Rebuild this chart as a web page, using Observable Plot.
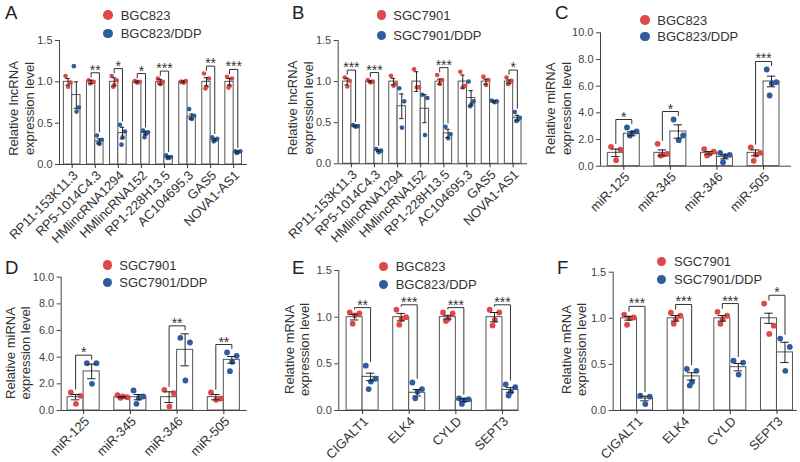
<!DOCTYPE html>
<html><head><meta charset="utf-8">
<script src="https://cdn.jsdelivr.net/npm/d3@7"></script>
<script src="https://cdn.jsdelivr.net/npm/@observablehq/plot@0.6"></script>
<style>
html,body{margin:0;padding:0;background:#fff;}
#wrap{position:relative;width:800px;height:462px;overflow:hidden;font-family:"Liberation Sans",Arial,sans-serif;color:#333;background:#fff;}
#wrap svg{position:absolute;left:0;top:0;}
.lab{position:absolute;white-space:nowrap;line-height:1;}
.key{position:absolute;border-radius:50%;}
</style></head><body><div id="wrap"></div>
<script>
// ---------- DATA ----------
const lncNames = ["RP11-153K11.3","RP5-1014C4.3","HMlincRNA1294","HMlincRNA152","RP1-228H13.5","AC104695.3","GAS5","NOVA1-AS1"];
const miNames = ["miR-125","miR-345","miR-346","miR-505"];
const mNames = ["CIGALT1","ELK4","CYLD","SEPT3"];

// A: lncRNA, BGC823 vs BGC823/DDP
const aCtrlMean = [1,1,1,1,1,1,1,1];
const aCtrlSem  = [0.04,0.02,0.05,0.01,0.03,0.01,0.05,0.04];
const aCtrlPts  = [[1.07,0.99,0.94],[1.02,1.0,0.99,0.98],[1.07,1.02,0.96,0.94],[1.01,1.0,0.99,1.0],[1.04,1.0,0.97,0.99],[1.0,1.01,0.99,1.0],[1.1,1.04,0.94,0.92],[1.06,1.04,0.95,0.93]];
const aDdpMean  = [0.84,0.28,0.38,0.38,0.09,0.58,0.30,0.15];
const aDdpSem   = [0.16,0.03,0.07,0.02,0.01,0.03,0.01,0.01];
const aDdpPts   = [[1.19,0.69,0.64],[0.35,0.30,0.25,0.26],[0.48,0.40,0.33,0.24],[0.41,0.39,0.37,0.33],[0.11,0.09,0.08,0.08],[0.67,0.59,0.55,0.56],[0.33,0.31,0.29,0.28],[0.16,0.16,0.15,0.14]];
const aSig      = ["","**","*","*","***","","**","***"];

// B: lncRNA, SGC7901 vs SGC7901/DDP
const bCtrlMean = [1,1,1,1,1,1,1,1];
const bCtrlSem  = [0.04,0.01,0.04,0.12,0.03,0.08,0.03,0.02];
const bCtrlPts  = [[1.05,1.01,0.94],[1.02,1.0,0.99],[1.07,0.97,0.95],[1.15,0.93,0.93],[1.08,1.02,0.97],[1.12,0.95,0.93],[1.06,1.02,0.96],[1.05,1.01,0.98,0.97]];
const bDdpMean  = [0.46,0.16,0.70,0.67,0.37,0.80,0.76,0.56];
const bDdpSem   = [0.01,0.01,0.15,0.17,0.05,0.09,0.01,0.03];
const bDdpPts   = [[0.47,0.46,0.45],[0.18,0.16,0.14],[0.92,0.76,0.44],[0.84,0.80,0.35],[0.45,0.36,0.31],[1.0,0.76,0.72,0.70],[0.77,0.76,0.75],[0.63,0.56,0.53,0.52]];
const bSig      = ["***","***","","","***","","","*"];

// C: miRNA, BGC823 vs BGC823/DDP
const cCtrlMean = [1,1,1,1];
const cCtrlSem  = [0.28,0.22,0.1,0.22];
const cCtrlPts  = [[1.45,1.25,0.45],[1.68,0.92,0.85,0.8],[1.28,1.1,0.92,0.8],[1.4,1.0,0.85,0.4]];
const cDdpMean  = [2.43,2.6,0.7,6.35];
const cDdpSem   = [0.15,0.5,0.15,0.4];
const cDdpPts   = [[2.9,2.6,2.5,2.3],[3.5,2.3,1.95],[1.0,0.85,0.75,0.3],[7.25,6.3,6.2,5.3]];
const cSig      = ["*","*","","***"];

// D: miRNA, SGC7901 vs SGC7901/DDP
const dCtrlMean = [1,1,1,1];
const dCtrlSem  = [0.2,0.05,0.4,0.2];
const dCtrlPts  = [[1.35,1.1,0.5],[1.15,1.0,1.05,0.95],[1.55,1.3,0.3],[1.35,0.9,0.8]];
const dDdpMean  = [2.93,1.0,4.55,3.8];
const dDdpSem   = [0.55,0.2,1.2,0.25];
const dDdpPts   = [[3.55,3.55,2.0],[1.5,1.05,0.95,0.5],[5.45,5.1,2.25],[4.35,4.1,3.65,2.95]];
const dSig      = ["*","","**","**"];

// E: mRNA, BGC823 vs BGC823/DDP
const eCtrlMean = [1,1,1,1];
const eCtrlSem  = [0.03,0.04,0.02,0.05];
const eCtrlPts  = [[1.05,1.04,1.02,0.93],[1.08,1.0,0.98,0.92],[1.05,1.04,0.98,0.96],[1.08,1.05,0.97,0.91]];
const eDdpMean  = [0.36,0.19,0.11,0.22];
const eDdpSem   = [0.04,0.035,0.015,0.025];
const eDdpPts   = [[0.48,0.34,0.31,0.23],[0.3,0.23,0.2,0.13],[0.13,0.12,0.11,0.07],[0.28,0.25,0.2,0.16]];
const eSig      = ["**","***","***","***"];

// F: mRNA, SGC7901 vs SGC7901/DDP
const fCtrlMean = [1,1,1,1];
const fCtrlSem  = [0.02,0.03,0.03,0.055];
const fCtrlPts  = [[1.04,1.01,1.0,0.93],[1.06,1.03,0.99,0.94],[1.07,1.03,0.99,0.94],[1.16,0.92,0.83]];
const fDdpMean  = [0.13,0.37,0.47,0.63];
const fDdpSem   = [0.025,0.04,0.04,0.11];
const fDdpPts   = [[0.16,0.15,0.07],[0.45,0.43,0.31,0.27],[0.54,0.52,0.39],[0.78,0.69,0.43]];
const fSig      = ["***","***","***","*"];

const ticksLow  = [0,0.5,1.0,1.5];
const ticksHigh = [0,2,4,6,8,10];

// ---------- LAYOUT / STYLE ----------
const RED = "#e04848", BLUE = "#2e5c9c";
const FONT = "'Liberation Sans', Arial, sans-serif";
const JIT = [-0.3, 0.3, 0.02, -0.12];

const panels = [
  {letter:"A", lx:5, ly:13.3, names:lncNames, c:[aCtrlMean,aCtrlSem,aCtrlPts], d:[aDdpMean,aDdpSem,aDdpPts], sig:aSig,
   ticks:ticksLow, x0:59, x1:247, yTop:40, yZero:164, dom:[-0.55,7.6], w:0.36, r:2.3, bpad:0.06,
   ylab:"Relative lncRNA\nexpression level", ylx:20.5, yly:108,
   leg:["BGC823","BGC823/DDP"], kx:108, ky:[15,33.5], tx:120.7},
  {letter:"B", lx:292, ly:13.3, names:lncNames, c:[bCtrlMean,bCtrlSem,bCtrlPts], d:[bDdpMean,bDdpSem,bDdpPts], sig:bSig,
   ticks:ticksLow, x0:337.7, x1:527, yTop:40, yZero:163.3, dom:[-0.57,7.62], w:0.36, r:2.3, bpad:0.06,
   ylab:"Relative lncRNA\nexpression level", ylx:299.7, yly:107.5,
   leg:["SGC7901","SGC7901/DDP"], kx:381.7, ky:[15,35.5], tx:393.3},
  {letter:"C", lx:555, ly:13.3, names:miNames, c:[cCtrlMean,cCtrlSem,cCtrlPts], d:[cDdpMean,cDdpSem,cDdpPts], sig:cSig,
   ticks:ticksHigh, x0:600, x1:791, yTop:32.3, yZero:165.7, dom:[-0.5,3.6], w:0.343, r:2.9, bpad:0.06,
   ylab:"Relative miRNA\nexpression level", ylx:557.5, yly:108,
   leg:["BGC823","BGC823/DDP"], kx:645, ky:[20,36.7], tx:657.3},
  {letter:"D", lx:5, ly:268, names:miNames, c:[dCtrlMean,dCtrlSem,dCtrlPts], d:[dDdpMean,dDdpSem,dDdpPts], sig:dSig,
   ticks:ticksHigh, x0:60.7, x1:246.7, yTop:276.7, yZero:410, dom:[-0.48,3.5], w:0.343, r:2.9, bpad:0.06,
   ylab:"Relative miRNA\nexpression level", ylx:17, yly:352.5,
   leg:["SGC7901","SGC7901/DDP"], kx:107.3, ky:[265,282.3], tx:119.3},
  {letter:"E", lx:292, ly:268.3, names:mNames, c:[eCtrlMean,eCtrlSem,eCtrlPts], d:[eDdpMean,eDdpSem,eDdpPts], sig:eSig,
   ticks:ticksLow, x0:338.3, x1:518.3, yTop:270, yZero:410, dom:[-0.51,3.35], w:0.343, r:2.9, bpad:0.035,
   ylab:"Relative mRNA\nexpression level", ylx:296.3, yly:349,
   leg:["BGC823","BGC823/DDP"], kx:383.3, ky:[266.7,284.3], tx:395.7},
  {letter:"F", lx:557, ly:268, names:mNames, c:[fCtrlMean,fCtrlSem,fCtrlPts], d:[fDdpMean,fDdpSem,fDdpPts], sig:fSig,
   ticks:ticksLow, x0:612.7, x1:797, yTop:271.7, yZero:410, dom:[-0.51,3.44], w:0.343, r:2.9, bpad:0.06,
   ylab:"Relative mRNA\nexpression level", ylx:572.8, yly:349,
   leg:["SGC7901","SGC7901/DDP"], kx:661.7, ky:[261.7,279.3], tx:674}
];

const wrap = document.getElementById("wrap");
const W = 800, H = 462;

function addLabel(text, left, cy, fs, extra) {
  const el = document.createElement("div");
  el.className = "lab";
  el.textContent = text;
  el.style.left = left + "px";
  el.style.top = (cy - 0.5 * fs) + "px";
  el.style.fontSize = fs + "px";
  if (extra) Object.assign(el.style, extra);
  wrap.appendChild(el);
}

function drawPanel(p) {
  const w = p.w, yMax = p.ticks[p.ticks.length - 1];
  const series = [
    {s:0, mean:p.c[0], sem:p.c[1], pts:p.c[2], color:RED},
    {s:1, mean:p.d[0], sem:p.d[1], pts:p.d[2], color:BLUE}
  ];
  const bars = [], pts = [];
  p.names.forEach((name, i) => series.forEach(se => {
    const cx = i + (se.s === 0 ? -w / 2 : w / 2);
    const m = se.mean[i], e = se.sem[i];
    const top = Math.max(m + e, d3.max(se.pts[i]));
    bars.push({i, s:se.s, x1: se.s === 0 ? i - w : i, x2: se.s === 0 ? i : i + w, cx, mean:m, lo:m - e, hi:m + e, top});
    se.pts[i].forEach((v, k) => pts.push({x: cx + JIT[k % JIT.length] * w, y: v, color: se.color}));
  }));
  const brackets = [], stars = [];
  p.sig.forEach((s, i) => {
    if (!s) return;
    const L = bars.find(b => b.i === i && b.s === 0), R = bars.find(b => b.i === i && b.s === 1);
    const yb = Math.max(L.top, R.top) + p.bpad * yMax;
    brackets.push({g:i, x:L.cx, y:L.top + 0.025 * yMax}, {g:i, x:L.cx, y:yb}, {g:i, x:R.cx, y:yb}, {g:i, x:R.cx, y:R.top + 0.03 * yMax});
    stars.push({x:i, y:yb, s});
  });
  const cap = w * 0.26;
  const svg = Plot.plot({
    width: W, height: H,
    marginLeft: p.x0, marginRight: W - p.x1, marginTop: p.yTop, marginBottom: H - p.yZero,
    x: {type: "linear", domain: p.dom},
    y: {type: "linear", domain: [0, yMax]},
    style: {background: "transparent", overflow: "visible", fontFamily: FONT, color: "#333"},
    marks: [
      Plot.rect(bars, {x1: "x1", x2: "x2", y1: 0, y2: "mean", fill: "white", stroke: "#555", strokeWidth: 1}),
      Plot.dot(pts, {x: "x", y: "y", r: p.r, fill: "color", stroke: "none"}),
      Plot.ruleX(bars, {x: "cx", y1: "lo", y2: "hi", stroke: "#222", strokeWidth: 1}),
      Plot.ruleY(bars, {y: "hi", x1: d => d.cx - cap, x2: d => d.cx + cap, stroke: "#222", strokeWidth: 1}),
      Plot.ruleY(bars, {y: "lo", x1: d => d.cx - cap, x2: d => d.cx + cap, stroke: "#222", strokeWidth: 1}),
      Plot.line(brackets, {x: "x", y: "y", z: "g", stroke: "#333", strokeWidth: 1}),
      Plot.text(stars, {x: "x", y: "y", text: "s", fontSize: 14, lineAnchor: "bottom", dy: 2, fill: "#333"}),
      Plot.ruleX([p.dom[0]], {y1: 0, y2: yMax, stroke: "#444", strokeWidth: 1}),
      Plot.ruleY([0], {x1: p.dom[0], x2: p.dom[1], stroke: "#444", strokeWidth: 1}),
      Plot.axisY({ticks: p.ticks, tickFormat: d => d.toFixed(1), tickSize: 4, tickPadding: 3, fontSize: 11, label: null, color: "#444"}),
      Plot.axisX({ticks: d3.range(p.names.length), tickFormat: i => p.names[i], tickRotate: -45, textAnchor: "end", lineAnchor: "top", tickSize: 4, tickPadding: 1, fontSize: 13, label: null, color: "#333"}),
      Plot.text([p.ylab], {frameAnchor: "left", text: d => d, rotate: -90, dx: p.ylx - p.x0, dy: p.yly - (p.yTop + p.yZero) / 2, fontSize: 13, lineHeight: 1.18, textAnchor: "middle", lineAnchor: "middle", fill: "#333"})
    ]
  });
  wrap.appendChild(svg);

  addLabel(p.letter, p.lx, p.ly, 18.6, {color: "#222"});
  [RED, BLUE].forEach((col, k) => {
    const d = 9.5;
    const el = document.createElement("div");
    el.className = "key";
    el.style.left = (p.kx - d / 2) + "px";
    el.style.top = (p.ky[k] - d / 2) + "px";
    el.style.width = d + "px"; el.style.height = d + "px";
    el.style.background = col;
    wrap.appendChild(el);
    addLabel(p.leg[k], p.tx, p.ky[k], 13);
  });
}

panels.forEach(drawPanel);
</script></body></html>
